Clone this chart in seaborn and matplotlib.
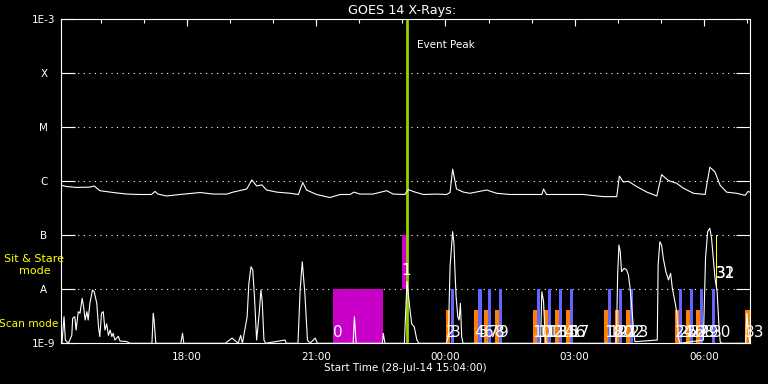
import matplotlib
matplotlib.use("Agg")
import numpy as np
import seaborn as sns
import matplotlib.pyplot as plt

# GOES 14 X-ray light curves, time in hours after 28-Jul-14 15:04:00
long_t = [0.00, 0.14, 0.37, 0.68, 0.78, 0.91, 1.22, 1.54, 1.84, 2.11, 2.19, 2.26, 2.46, 2.77,
          3.24, 3.54, 3.86, 4.00, 4.32, 4.44, 4.55, 4.67, 4.78, 5.02, 5.33, 5.52, 5.62, 5.71,
          5.94, 6.25, 6.49, 6.72, 6.81, 6.95, 7.25, 7.57, 7.72, 7.99, 8.07, 8.23, 8.42, 8.73,
          8.96, 9.04, 9.10, 9.19, 9.35, 9.50, 9.89, 10.12, 10.43, 10.90, 11.17, 11.21, 11.28,
          12.13, 12.60, 12.91, 12.97, 13.06, 13.18, 13.37, 13.61, 13.84, 13.95, 14.11, 14.30,
          14.45, 14.69, 14.96, 15.07, 15.19, 15.31, 15.46, 15.69, 15.89, 15.96, 16.00]
long_flux = [8.5e-7, 8.0e-7, 7.7e-7, 7.8e-7, 8.2e-7, 6.7e-7, 6.2e-7, 5.8e-7, 5.7e-7, 5.7e-7,
             6.5e-7, 5.8e-7, 5.35e-7, 5.7e-7, 6.2e-7, 5.8e-7, 5.8e-7, 6.3e-7, 7.2e-7, 1.06e-6,
             8.2e-7, 8.6e-7, 6.9e-7, 6.3e-7, 6.0e-7, 5.7e-7, 9.5e-7, 6.9e-7, 5.7e-7, 5.0e-7,
             5.7e-7, 5.7e-7, 6.3e-7, 5.8e-7, 5.8e-7, 6.7e-7, 5.8e-7, 5.7e-7, 7.0e-7, 6.3e-7,
             5.7e-7, 5.8e-7, 5.7e-7, 6.2e-7, 1.68e-6, 7.2e-7, 6.3e-7, 6.0e-7, 6.9e-7, 6.0e-7,
             5.7e-7, 5.7e-7, 5.7e-7, 7.2e-7, 5.7e-7, 5.7e-7, 5.2e-7, 5.2e-7, 1.25e-6, 9.7e-7,
             1.0e-6, 8.0e-7, 6.3e-7, 5.35e-7, 1.33e-6, 1.03e-6, 9.2e-7, 7.5e-7, 6.0e-7, 5.7e-7,
             1.82e-6, 1.49e-6, 8.4e-7, 6.3e-7, 6.0e-7, 5.5e-7, 6.5e-7, 6.3e-7]

short_t = [0.00, 0.03, 0.08, 0.11, 0.18, 0.26, 0.28, 0.33, 0.36, 0.41, 0.45, 0.50, 0.53, 0.57,
           0.61, 0.64, 0.68, 0.74, 0.78, 0.84, 0.88, 0.91, 0.95, 0.99, 1.03, 1.07, 1.11, 1.15,
           1.19, 1.22, 1.26, 1.34, 1.38, 1.53, 1.61, 2.12, 2.15, 2.17, 2.21, 2.79, 2.83, 2.86,
           3.82, 3.98, 4.12, 4.18, 4.22, 4.33, 4.37, 4.42, 4.46, 4.50, 4.55, 4.61, 4.65, 4.68,
           4.72, 4.76, 5.21, 5.24, 5.51, 5.56, 5.61, 5.67, 5.73, 5.79, 5.91, 5.96, 6.79, 6.82,
           6.86, 7.47, 7.49, 7.53, 7.98, 8.04, 8.08, 8.11, 8.15, 8.21, 8.27, 8.32, 8.95, 9.00,
           9.04, 9.10, 9.13, 9.15, 9.18, 9.22, 9.25, 9.28, 9.31, 9.34, 11.14, 11.17, 11.21,
           11.24, 11.27, 12.89, 12.91, 12.93, 12.96, 12.99, 13.02, 13.08, 13.14, 13.18, 13.22,
           13.26, 13.29, 13.33, 13.85, 13.87, 13.91, 13.95, 13.99, 14.05, 14.11, 14.16, 14.20,
           14.26, 14.30, 14.34, 14.38, 14.92, 14.97, 15.02, 15.07, 15.11, 15.15, 15.19, 15.24,
           15.28, 15.31, 15.35, 15.90, 15.93, 15.96, 16.00]
short_flux = [1e-9, 1e-9, 3.1e-9, 1.15e-9, 1e-9, 1.4e-9, 2.9e-9, 3.1e-9, 1.76e-9, 3.85e-9,
              3.6e-9, 6.8e-9, 5.0e-9, 2.7e-9, 3.85e-9, 2.7e-9, 5.5e-9, 9.7e-9, 9.0e-9, 5.5e-9,
              2.0e-9, 1.33e-9, 3.6e-9, 3.85e-9, 1.76e-9, 2.3e-9, 1.4e-9, 1.76e-9, 1.33e-9,
              1.53e-9, 1.15e-9, 1.35e-9, 1.1e-9, 1.08e-9, 1e-9, 1e-9, 3.6e-9, 2.7e-9, 1e-9,
              1e-9, 1.53e-9, 1e-9, 1e-9, 1.25e-9, 1e-9, 1.4e-9, 1e-9, 3.1e-9, 1.29e-8, 2.62e-8,
              2.28e-8, 7.3e-9, 1.15e-9, 3.6e-9, 9.7e-9, 6.0e-9, 1.15e-9, 1e-9, 1.15e-9, 1e-9,
              1e-9, 9.7e-9, 3.24e-8, 8.3e-9, 1.15e-9, 1e-9, 1.25e-9, 1e-9, 1e-9, 3.1e-9, 1e-9,
              1e-9, 1.53e-9, 1e-9, 1e-9, 1.4e-8, 7.0e-9, 4.2e-9, 2.3e-9, 2.0e-9, 1.15e-9, 1e-9,
              1e-9, 1.33e-9, 2.62e-8, 1.17e-7, 7.1e-8, 2.62e-8, 7.3e-9, 3.1e-9, 2.7e-9, 5.5e-9,
              1.33e-9, 1e-9, 1e-9, 9.0e-9, 6.0e-9, 1.76e-9, 1e-9, 1e-9, 2.5e-9, 1.84e-8,
              6.6e-8, 5.0e-8, 2.12e-8, 2.45e-8, 2.28e-8, 1.84e-8, 1.04e-8, 4.45e-9, 2.2e-9,
              1.07e-9, 1.15e-9, 2.82e-8, 7.6e-8, 6.6e-8, 3.75e-8, 2.12e-8, 1.49e-8, 1.98e-8,
              1.04e-8, 5.9e-9, 3.85e-9, 1.25e-9, 1e-9, 1.15e-9, 3.75e-8, 1.17e-7, 1.35e-7,
              8.8e-8, 3.75e-8, 1.6e-8, 9.0e-9, 2.2e-9, 1.07e-9, 1e-9, 1e-9, 3.6e-9, 1.76e-9, 1e-9]

# observations (start in hours after 15:04, duration in minutes)
obs_start = [6.32, 7.92, 8.95, 9.06, 9.60, 9.70, 9.83, 9.93, 10.08, 10.18, 10.96, 11.06,
             11.22, 11.31, 11.48, 11.57, 11.73, 11.82, 12.61, 12.71, 12.87, 12.96, 13.12,
             13.22, 14.26, 14.35, 14.52, 14.61, 14.75, 14.84, 15.12, 15.21, 15.21, 15.89]
obs_minutes = [70, 7, 5.5, 4.2, 5.5, 4.2, 5.5, 4.2, 5.5, 4.2, 5.5, 4.2, 5.5, 4.2, 5.5, 4.2,
               5.5, 4.2, 5.5, 4.2, 5.5, 4.2, 5.5, 4.2, 5.5, 4.2, 5.5, 4.2, 5.5, 4.2, 4.2,
               2, 2, 12]
obs_kind = ['sns_lo', 'sns_hi', 'scan', 'raster', 'scan', 'raster', 'scan', 'raster',
            'scan', 'raster', 'scan', 'raster', 'scan', 'raster', 'scan', 'raster',
            'scan', 'raster', 'scan', 'raster', 'scan', 'raster', 'scan', 'raster',
            'scan', 'raster', 'scan', 'raster', 'scan', 'raster', 'raster', 'flag', 'flag', 'scan']

event_peak = 8.03
class_levels = [1e-9, 1e-8, 1e-7, 1e-6, 1e-5, 1e-4, 1e-3]
class_labels = ['1E-9', 'A', 'B', 'C', 'M', 'X', '1E-3']
hour_ticks = [2.933, 5.933, 8.933, 11.933, 14.933]
hour_labels = ['18:00', '21:00', '00:00', '03:00', '06:00']

# kind -> colour, bar bottom, bar top, label height
kind_style = {
    'sns_lo': ('#c800c8', 1e-9, 1e-8, 1.6e-9),
    'sns_hi': ('#c800c8', 1e-8, 1e-7, 2.2e-8),
    'flag': ('#ffff00', 1e-8, 1e-7, 2.0e-8),
    'scan': ('#ff8000', 1e-9, 4.1e-9, 1.6e-9),
    'raster': ('#6464ff', 1e-9, 1e-8, 1.6e-9),
}

sns.set_theme(style='ticks', rc={
    'figure.facecolor': 'black', 'axes.facecolor': 'black', 'axes.edgecolor': 'white',
    'text.color': 'white', 'axes.labelcolor': 'white',
    'xtick.color': 'white', 'ytick.color': 'white'})
plt.rcParams['font.family'] = ['DejaVu Sans']

fig = plt.figure(figsize=(7.68, 3.84), dpi=100)
ax = fig.add_axes([60.6 / 768, 1 - 343.3 / 384, 689.3 / 768, 324 / 384])
ax.set_yscale('log')

for t, m, k in zip(obs_start, obs_minutes, obs_kind):
    c, lo, hi, _ = kind_style[k]
    ax.bar(t, hi - lo, width=m / 60, bottom=lo, align='edge', color=c, linewidth=0,
           antialiased=False, zorder=2)

ax.axvline(event_peak, color='#9acd00', lw=2, zorder=2.5)

sns.lineplot(x=long_t, y=long_flux, ax=ax, color='white', lw=0.8, estimator=None, sort=False, zorder=3)
sns.lineplot(x=short_t, y=short_flux, ax=ax, color='white', lw=0.8, estimator=None, sort=False, zorder=3)

for i, (t, k) in enumerate(zip(obs_start, obs_kind)):
    ax.text(t, kind_style[k][3], str(i), color='white', fontsize=11, ha='left', va='center',
            zorder=5, clip_on=False)

ax.text(event_peak + 0.24, 3.4e-4, 'Event Peak', color='white', fontsize=7.5, va='center')

ax.set_xlim(0, 16)
ax.set_ylim(1e-9, 1e-3)
ax.set_yticks(class_levels)
ax.set_yticklabels(class_labels)
ax.yaxis.set_minor_locator(matplotlib.ticker.NullLocator())
ax.tick_params(axis='y', which='major', direction='in', length=10, width=0.8,
               left=True, right=True, pad=12, labelsize=7.5)
for lbl in ax.get_yticklabels():
    lbl.set_ha('center')

ax.set_xticks(hour_ticks)
ax.set_xticklabels(hour_labels)
ax.set_xticks(np.arange(56 / 60, 16, 1), minor=True)
ax.tick_params(axis='x', which='major', direction='in', top=True, bottom=False,
               length=5, width=0.8, labelsize=7.5, pad=6)
ax.tick_params(axis='x', which='minor', direction='in', top=True, bottom=False,
               length=3, width=0.8)

ax.set_axisbelow(True)
ax.yaxis.grid(True, color='white', linestyle=(0, (1, 4)), linewidth=0.8)
ax.xaxis.grid(False)
for s in ax.spines.values():
    s.set_color('white')
    s.set_linewidth(0.8)

ax.set_title('GOES 14 X-Rays:', color='white', fontsize=9.2, pad=4, x=0.495)
ax.set_xlabel('Start Time (28-Jul-14 15:04:00)', fontsize=7.5)
ax.xaxis.set_label_coords(0.5, -0.062)
ax.set_ylabel('')

fig.text(34.5 / 768, 1 - 265 / 384, 'Sit & Stare\nmode', color='yellow', ha='center',
         va='center', fontsize=8, linespacing=1.3)
fig.text(28.5 / 768, 1 - 324 / 384, 'Scan mode', color='yellow', ha='center',
         va='center', fontsize=7.6)

fig.savefig('out.png', dpi=100, facecolor='black')
